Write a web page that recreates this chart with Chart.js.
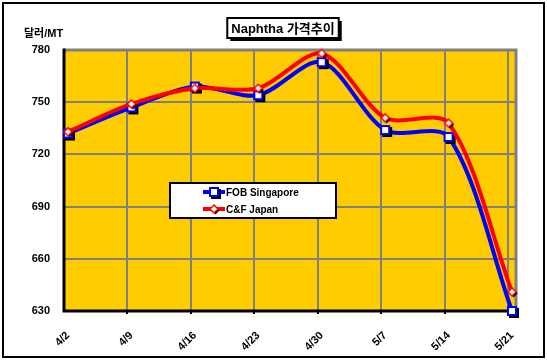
<!DOCTYPE html>
<html><head><meta charset="utf-8">
<script src="https://cdn.jsdelivr.net/npm/chart.js@4/dist/chart.umd.min.js"></script>
<style>html,body{margin:0;padding:0;background:#fff}#wrap{width:547px;height:362px;position:relative}</style>
</head><body><div id="wrap"><canvas id="c" width="547" height="362"></canvas></div>
<script>
const categories = ['4/2','4/9','4/16','4/23','4/30','5/7','5/14','5/21'];
const fobSingapore = [732, 747, 759, 754, 773, 734, 730, 630];
const cfJapan = [733, 749, 758, 758, 778, 741, 738, 641];
const yTicks = [630, 660, 690, 720, 750, 780];
const seriesNames = ['FOB Singapore', 'C&F Japan'];
const titleText = 'Naphtha 가격추이';
const yTitle = '달러/MT';

const FONT = '"Liberation Sans", Arial, "Noto Sans CJK KR", sans-serif';
const OFF = 0.063;

function makeSquare(){
  const c = document.createElement('canvas'); c.width = 18; c.height = 18;
  const g = c.getContext('2d');
  g.fillStyle = '#000'; g.fillRect(6, 6, 10, 10);
  g.fillStyle = '#fff'; g.fillRect(4, 4, 10, 10);
  g.strokeStyle = '#0000FF'; g.lineWidth = 2; g.strokeRect(5, 5, 8, 8);
  return c;
}
function makeDiamond(){
  const c = document.createElement('canvas'); c.width = 16; c.height = 16;
  const g = c.getContext('2d');
  const d = (cx, cy, r) => { g.beginPath(); g.moveTo(cx, cy - r); g.lineTo(cx + r, cy); g.lineTo(cx, cy + r); g.lineTo(cx - r, cy); g.closePath(); };
  g.fillStyle = '#000'; d(9.5, 9.5, 4); g.fill();
  d(8, 8, 4); g.fillStyle = '#fff'; g.fill(); g.strokeStyle = '#FF0000'; g.lineWidth = 1.5; g.stroke();
  return c;
}
const sq = makeSquare(), dm = makeDiamond();

const deco = {
  id: 'deco',
  beforeDraw(chart){
    const {ctx, chartArea: a} = chart;
    ctx.save();
    ctx.fillStyle = '#FFCC00';
    ctx.fillRect(a.left, a.top, a.right - a.left, a.bottom - a.top);
    ctx.restore();
  },
  beforeDatasetsDraw(chart){
    const {ctx, chartArea: a} = chart;
    ctx.save();
    ctx.lineWidth = 3;
    ctx.strokeStyle = '#808080';
    ctx.beginPath(); ctx.moveTo(a.left, a.top); ctx.lineTo(a.right, a.top); ctx.lineTo(a.right, a.bottom); ctx.stroke();
    ctx.strokeStyle = '#000';
    ctx.beginPath(); ctx.moveTo(a.left, a.top - 1.5); ctx.lineTo(a.left, a.bottom); ctx.lineTo(a.right + 1.5, a.bottom); ctx.stroke();
    // small tick marks under the category separators
    const xg = chart.scales.xg;
    ctx.lineWidth = 2;
    xg.ticks.forEach(t => {
      const px = Math.round(xg.getPixelForValue(t.value));
      if (px <= a.left + 2) return;
      ctx.beginPath(); ctx.moveTo(px, a.bottom); ctx.lineTo(px, a.bottom + 3); ctx.stroke();
    });
    ctx.restore();
  },
  afterDraw(chart){
    const {ctx} = chart;
    ctx.save();
    ctx.strokeStyle = '#000'; ctx.lineWidth = 2;
    ctx.strokeRect(3, 3, 541, 354);
    ctx.font = 'bold 13px ' + FONT;
    const tw = ctx.measureText(titleText).width;
    const cx = 283, cy = 28;
    const bx = cx - tw / 2 - 4, by = 18, bw = tw + 8, bh = 20;
    ctx.fillStyle = '#000'; ctx.fillRect(bx + 3, by + 3, bw, bh);
    ctx.fillStyle = '#fff'; ctx.fillRect(bx, by, bw, bh);
    ctx.lineWidth = 2; ctx.strokeStyle = '#000'; ctx.strokeRect(bx, by, bw, bh);
    ctx.fillStyle = '#000'; ctx.textAlign = 'center'; ctx.textBaseline = 'middle';
    ctx.fillText(titleText, cx, cy + 1);
    ctx.font = 'bold 11px ' + FONT;
    ctx.textAlign = 'left';
    ctx.fillText(yTitle, 24, 34);
    const lx = 170, ly = 183, lw = 166, lh = 35;
    ctx.fillStyle = '#fff'; ctx.fillRect(lx, ly, lw, lh);
    ctx.lineWidth = 2; ctx.strokeStyle = '#000'; ctx.strokeRect(lx, ly, lw, lh);
    const ds = chart.data.datasets;
    const rows = [192, 209];
    ds.forEach((d, i) => {
      const y = rows[i];
      ctx.strokeStyle = d.borderColor; ctx.lineWidth = 4;
      ctx.beginPath(); ctx.moveTo(203, y); ctx.lineTo(225, y); ctx.stroke();
      const img = d.pointStyle;
      ctx.drawImage(img, 214 - img.width / 2, y - img.height / 2);
      ctx.fillStyle = '#000'; ctx.font = 'bold 10px ' + FONT;
      ctx.textAlign = 'left'; ctx.textBaseline = 'middle';
      ctx.fillText(d.label, 226, y + 1);
    });
    ctx.restore();
  }
};

new Chart(document.getElementById('c'), {
  type: 'line',
  data: {
    datasets: [
      { label: seriesNames[0], data: fobSingapore.map((v, i) => ({x: i, y: v})),
        borderColor: '#0000FF', borderWidth: 4, pointStyle: sq, tension: 0.3, order: 1, clip: false },
      { label: seriesNames[1], data: cfJapan.map((v, i) => ({x: i, y: v})),
        borderColor: '#FF0000', borderWidth: 4, pointStyle: dm, tension: 0.3, order: 0, clip: false }
    ]
  },
  options: {
    responsive: false, animation: false, devicePixelRatio: 1,
    layout: { padding: { left: 0, top: 50, right: 31, bottom: 0 } },
    plugins: { legend: { display: false }, tooltip: { enabled: false }, title: { display: false } },
    scales: {
      x: {
        type: 'linear', position: 'bottom', min: -OFF, max: categories.length - 1 + OFF,
        afterBuildTicks: s => { s.ticks = categories.map((c, i) => ({value: i})); },
        afterFit: s => { s.height = 51; },
        grid: { display: false }, border: { display: false },
        ticks: { autoSkip: false, minRotation: 45, maxRotation: 45, padding: 10, color: '#000',
          font: { family: FONT, size: 11, weight: 'bold' },
          callback: (v) => categories[Math.round(v)] }
      },
      xg: {
        type: 'linear', position: 'bottom', min: -OFF, max: categories.length - 1 + OFF,
        afterBuildTicks: s => { s.ticks = categories.map((c, i) => ({value: i - OFF})); },
        afterFit: s => { s.height = 0; },
        grid: { color: '#808080', lineWidth: 2, drawTicks: false }, border: { display: false },
        ticks: { display: false }
      },
      y: {
        min: 630, max: 780,
        afterBuildTicks: s => { s.ticks = yTicks.map(v => ({value: v})); },
        afterFit: s => { s.width = 64; },
        grid: { color: '#808080', lineWidth: 2, drawTicks: false }, border: { display: false },
        ticks: { padding: 14, color: '#000', font: { family: FONT, size: 11, weight: 'bold' } }
      }
    }
  },
  plugins: [deco]
});
</script></body></html>
